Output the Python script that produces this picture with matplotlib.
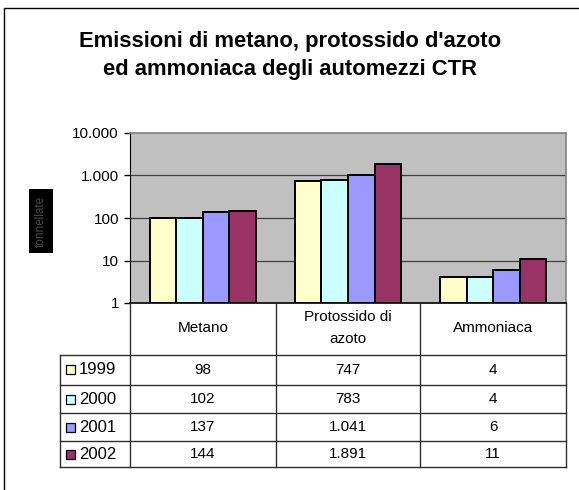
"""Emissioni di metano, protossido d'azoto ed ammoniaca degli automezzi CTR.

Excel-style clustered bar chart on a log axis with a data table underneath.
Saves out.png (579x490).
"""

import matplotlib.pyplot as plt
from matplotlib.patches import Rectangle
from matplotlib.ticker import FixedLocator, FixedFormatter, NullLocator

plt.rcParams["font.family"] = ["Liberation Sans", "DejaVu Sans"]

CATEGORIES = ["Metano", "Protossido di\nazoto", "Ammoniaca"]
YEARS = ["1999", "2000", "2001", "2002"]
VALUES = {
    "1999": [98, 747, 4],
    "2000": [102, 783, 4],
    "2001": [137, 1041, 6],
    "2002": [144, 1891, 11],
}
Y_TICKS = [1, 10, 100, 1000, 10000]
Y_TICK_LABELS = ["1", "10", "100", "1.000", "10.000"]

COLORS = {"1999": "#FFFFCC", "2000": "#CCFFFF", "2001": "#9999FF", "2002": "#993366"}
W, H = 579, 490


def fig_rect(x0, y0, x1, y1):
    # pixel box (top-left origin) -> figure fraction [left, bottom, width, height]
    return [x0 / W, 1 - y1 / H, (x1 - x0) / W, (y1 - y0) / H]


def fmt_it(v):
    return f"{v:,}".replace(",", ".")


fig = plt.figure(figsize=(W / 100, H / 100), dpi=100)
# chart frame: only its top and left edges fall inside the image
fig.add_artist(plt.Line2D([4 / W, 4 / W, 1.0], [0.0, 1 - 8 / H, 1 - 8 / H],
                          transform=fig.transFigure, color="black", linewidth=1.0))

fig.text(290 / W, 1 - 42 / H, "Emissioni di metano, protossido d'azoto",
         ha="center", va="center", fontsize=15.8, fontweight="bold")
fig.text(290 / W, 1 - 70 / H, "ed ammoniaca degli automezzi CTR",
         ha="center", va="center", fontsize=15.8, fontweight="bold")

# garbled rotated axis label box as in the source image
fig.text(41 / W, 1 - 221 / H, "tonnellate", rotation=90, ha="center", va="center",
         fontsize=8.5, color="#4a4a4a",
         bbox=dict(boxstyle="square,pad=0.55", facecolor="black", edgecolor="none"))

ax = fig.add_axes(fig_rect(130, 133, 566, 303))
ax.set_facecolor("#C0C0C0")
ax.set_yscale("log")
ax.set_ylim(1, 10000)
ax.set_xlim(-0.5, len(CATEGORIES) - 0.5)

group = 0.73
bw = group / len(YEARS)
for i, year in enumerate(YEARS):
    xs = [c - group / 2 + bw * (i + 0.5) for c in range(len(CATEGORIES))]
    heights = [v - 1 for v in VALUES[year]]  # bars start at the log-axis floor (1)
    ax.bar(xs, heights, width=bw, bottom=1, color=COLORS[year],
           edgecolor="black", linewidth=1.4, zorder=3)

for t in Y_TICKS[1:-1]:
    ax.axhline(t, color="#404040", linewidth=0.9, zorder=1)

ax.yaxis.set_major_locator(FixedLocator(Y_TICKS))
ax.yaxis.set_major_formatter(FixedFormatter(Y_TICK_LABELS))
ax.yaxis.set_minor_locator(NullLocator())
ax.tick_params(axis="y", direction="out", length=4, width=1, labelsize=11, pad=4)
ax.set_xticks([])
for side in ("top", "right"):
    ax.spines[side].set_color("#808080")
    ax.spines[side].set_linewidth(1.2)
ax.spines["left"].set_color("black")
ax.spines["bottom"].set_color("black")
ax.spines["bottom"].set_linewidth(1.2)

# data table below the plot
tx = fig.add_axes(fig_rect(58, 303, 568, 469))
tx.set_xlim(58, 568)
tx.set_ylim(469, 303)
tx.axis("off")

cols = [130, 276, 420, 566]
rows = [355, 385, 413, 441, 467]
line_c = "#303030"
for x in cols:
    tx.plot([x, x], [303, 467], color=line_c, linewidth=1.0)
tx.plot([60, 60], [355, 467], color=line_c, linewidth=1.0)
for y in rows:
    tx.plot([60, 566], [y, y], color=line_c, linewidth=1.0)

for j, cat in enumerate(CATEGORIES):
    cx = (cols[j] + cols[j + 1]) / 2
    tx.text(cx, 328, cat, ha="center", va="center", fontsize=11, linespacing=1.65)

for i, year in enumerate(YEARS):
    cy = (rows[i] + rows[i + 1]) / 2
    tx.add_patch(Rectangle((66, cy - 4.5), 9, 9, facecolor=COLORS[year],
                           edgecolor="black", linewidth=0.9))
    tx.text(79, cy, year, ha="left", va="center", fontsize=12)
    for j in range(len(CATEGORIES)):
        cx = (cols[j] + cols[j + 1]) / 2
        tx.text(cx, cy, fmt_it(VALUES[year][j]), ha="center", va="center", fontsize=11)

fig.savefig("out.png", dpi=100)
